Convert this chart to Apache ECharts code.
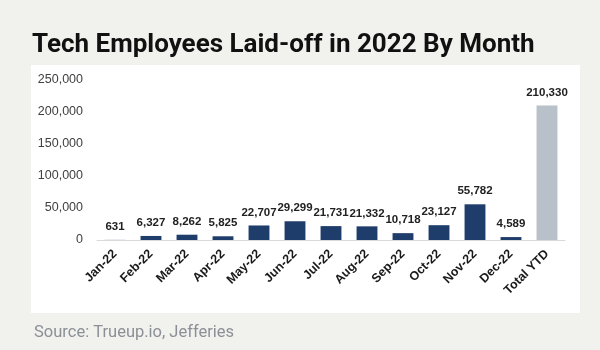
<!DOCTYPE html>
<html>
<head>
<meta charset="utf-8">
<script src="https://cdn.jsdelivr.net/npm/echarts@6/dist/echarts.min.js"></script>
<style>
  html, body { margin: 0; padding: 0; background: #f1f1ed; }
  #main { width: 600px; height: 350px; }
</style>
</head>
<body>
<div id="main"></div>
<script>
// data
var months = ['Jan-22', 'Feb-22', 'Mar-22', 'Apr-22', 'May-22', 'Jun-22', 'Jul-22',
  'Aug-22', 'Sep-22', 'Oct-22', 'Nov-22', 'Dec-22', 'Total YTD'];
var laidOff = [631, 6327, 8262, 5825, 22707, 29299, 21731, 21332, 10718, 23127, 55782, 4589, 210330];
var yTicks = [0, 50000, 100000, 150000, 200000, 250000];

var barColors = months.map(function (m, i) {
  if (m === 'Total YTD') return '#b8c0c9';
  if (i === 0) return '#c9d2dc';
  return '#1f3d6b';
});

function fmt(v) {
  return v.toString().replace(/\B(?=(\d{3})+(?!\d))/g, ',');
}

var chart = echarts.init(document.getElementById('main'));
var option = {
  backgroundColor: '#f1f1ed',
  animation: false,
  title: [{
    text: 'Tech Employees Laid-off in 2022 By Month',
    left: 27, top: 27,
    textStyle: { fontFamily: 'Roboto', fontWeight: 'bold', fontSize: 26, color: '#111' }
  }, {
    text: 'Source: Trueup.io, Jefferies',
    left: 29, top: 319,
    textStyle: { fontFamily: 'Roboto', fontWeight: 'normal', fontSize: 16.5, color: '#8b9097' }
  }],
  graphic: [{
    type: 'rect', z: -10,
    shape: { x: 31, y: 65, width: 549, height: 248 },
    style: { fill: '#ffffff' }
  }],
  grid: { left: 97, right: 35, top: 80, bottom: 110 },
  xAxis: {
    type: 'category',
    data: months,
    axisLine: { lineStyle: { color: '#d9d9d9', width: 1 } },
    axisTick: { show: false },
    axisLabel: {
      interval: 0, rotate: 45, margin: 12,
      fontFamily: 'Liberation Sans', fontWeight: 'bold', fontSize: 12.5, color: '#1a1a1a'
    }
  },
  yAxis: {
    type: 'value',
    min: yTicks[0], max: yTicks[yTicks.length - 1], interval: yTicks[1] - yTicks[0],
    splitLine: { show: false },
    axisLine: { show: false },
    axisTick: { show: false },
    axisLabel: {
      margin: 14,
      fontFamily: 'Liberation Sans', fontSize: 12.5, color: '#404040',
      formatter: fmt
    }
  },
  series: [{
    type: 'bar',
    data: laidOff.map(function (v, i) {
      return { value: v, itemStyle: { color: barColors[i] } };
    }),
    barCategoryGap: '42%',
    label: {
      show: true, position: 'top', distance: 7,
      fontFamily: 'Liberation Sans', fontWeight: 'bold', fontSize: 11.5, color: '#222',
      formatter: function (p) { return fmt(p.value); }
    }
  }]
};
chart.setOption(option);
</script>
</body>
</html>
